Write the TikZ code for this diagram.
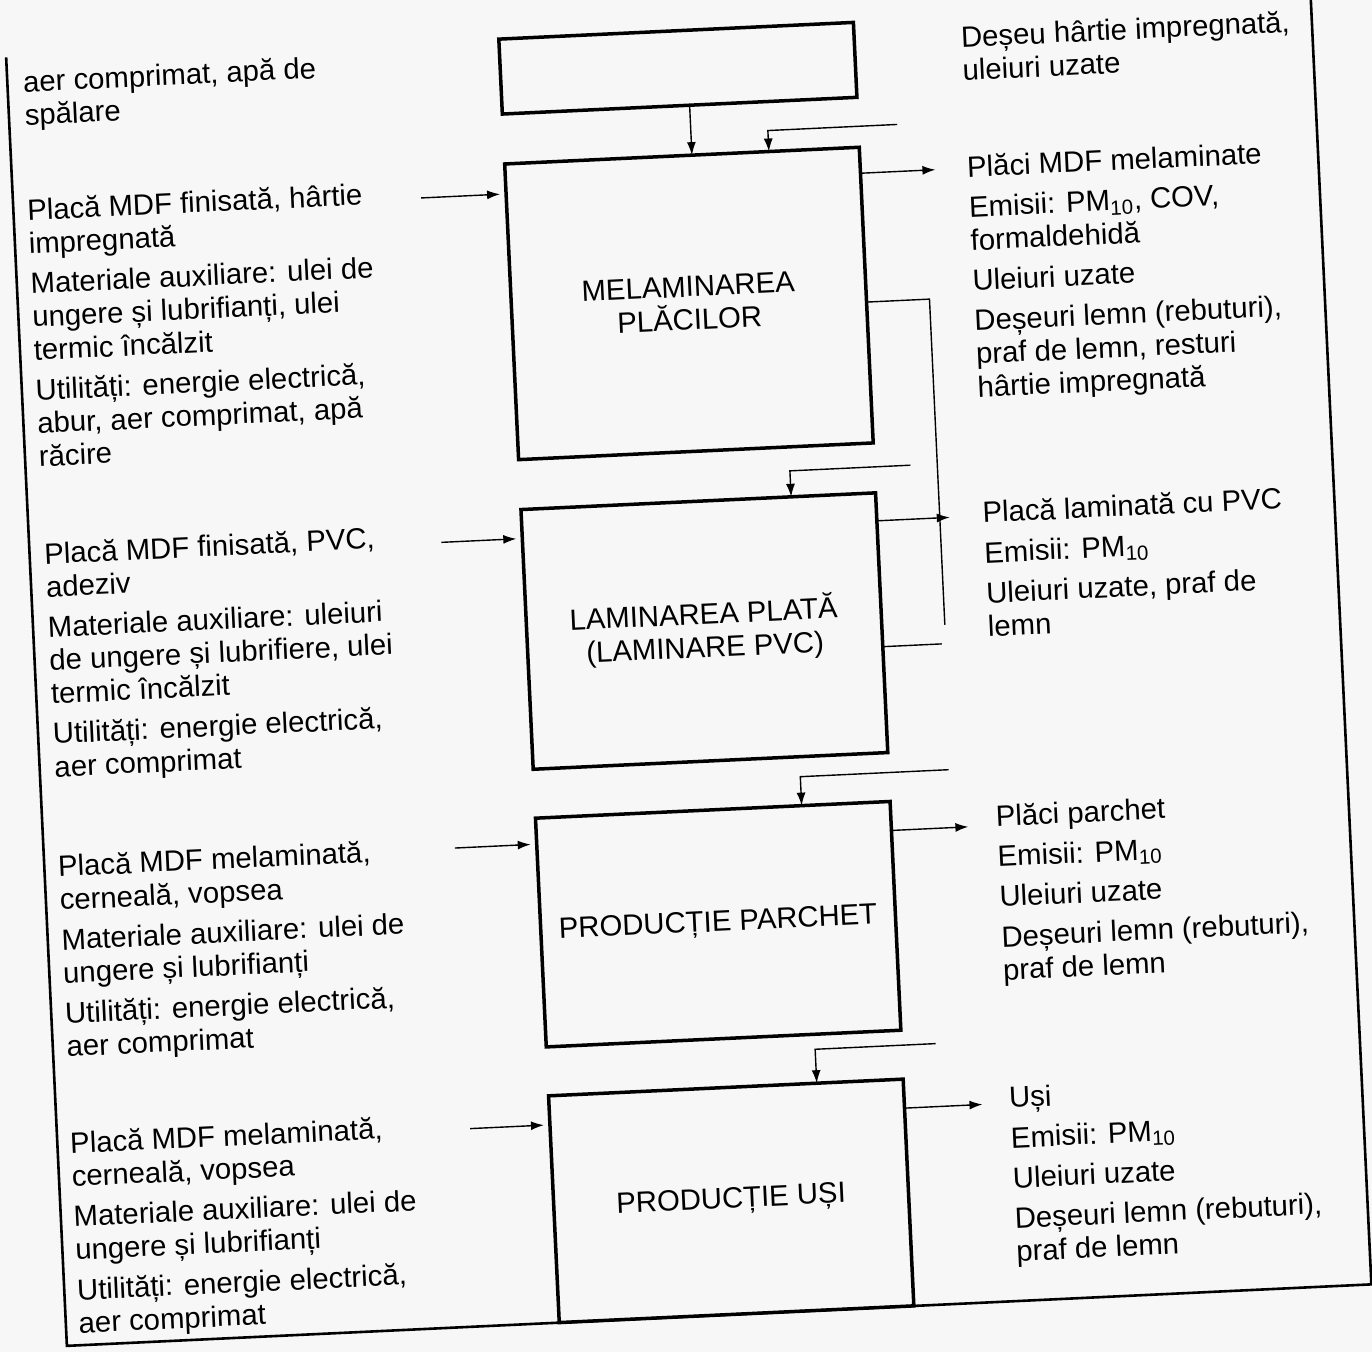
\documentclass[tikz,border=0pt]{standalone}
\usepackage{fontspec}
\setmainfont{Liberation Sans}
\usetikzlibrary{arrows.meta, positioning, calc}

\begin{document}
\begin{tikzpicture}[
x=0.5pt, y=-0.5pt,
node distance=25pt,
font=\fontsize{14.65pt}{16.6pt}\selectfont,
box/.style={draw, line width=1.75pt, minimum width=177.5pt, inner sep=0pt, outer sep=0pt, align=center},
txt/.style={anchor=north west, inner sep=0pt, align=left},
arrow/.style={-{Latex[length=6.5pt, width=4.5pt]}, line width=0.7pt},
link/.style={line width=0.7pt},
frame/.style={line width=1.3pt}
]
\useasboundingbox (0,0) rectangle (1372,1352);
\clip (0,0) rectangle (1372,1352);
\fill[white!97!black] (0,0) rectangle (1372,1352);

\begin{scope}[rotate around={2.7:(686,676)}, transform shape]

\draw[frame] (36,26) -- (36,1316) -- (1342,1316) -- (1342,-90);

\node[box, minimum height=37.5pt] (topbox) at (706.5,68.5) {};
\node[box, minimum height=148pt, below=of topbox] (melam) {MELAMINAREA\\PLĂCILOR};
\node[box, minimum height=130pt, below=of melam] (lamin) {LAMINAREA PLATĂ\\(LAMINARE PVC)};
\node[box, minimum height=114.5pt, below=24.5pt of lamin] (parchet) {PRODUCȚIE PARCHET};
\node[box, minimum height=113.5pt, below=24.5pt of parchet] (usi) {PRODUCȚIE UȘI};

\node[txt] (inTop) at (51.5,39.5) {aer comprimat, apă de\\spălare};
\node[txt] (inMelam) at (49.5,168) {Placă MDF finisată, hârtie\\impregnată\\[3.5pt]Materiale auxiliare: ulei de\\ungere și lubrifianți, ulei\\termic încălzit\\[3.5pt]Utilități: energie electrică,\\abur, aer comprimat, apă\\răcire};
\node[txt] (inLamin) at (50.5,512) {Placă MDF finisată, PVC,\\adeziv\\[3.5pt]Materiale auxiliare: uleiuri\\de ungere și lubrifiere, ulei\\termic încălzit\\[3.5pt]Utilități: energie electrică,\\aer comprimat};
\node[txt] (inParchet) at (49.5,825) {Placă MDF melaminată,\\cerneală, vopsea\\[3.5pt]Materiale auxiliare: ulei de\\ungere și lubrifianți\\[3.5pt]Utilități: energie electrică,\\aer comprimat};
\node[txt] (inUsi) at (48.5,1102) {Placă MDF melaminată,\\cerneală, vopsea\\[3.5pt]Materiale auxiliare: ulei de\\ungere și lubrifianți\\[3.5pt]Utilități: energie electrică,\\aer comprimat};

\node[txt] (outTop) at (990.5,39) {Deșeu hârtie impregnată,\\uleiuri uzate};
\node[txt] (outMelam) at (990.5,169) {Plăci MDF melaminate\\[3.5pt]Emisii: PM\textsubscript{10}, COV,\\formaldehidă\\[3.5pt]Uleiuri uzate\\[3.5pt]Deșeuri lemn (rebuturi),\\praf de lemn, resturi\\hârtie impregnată};
\node[txt] (outLamin) at (989.5,515) {Placă laminată cu PVC\\[3.5pt]Emisii: PM\textsubscript{10}\\[3.5pt]Uleiuri uzate, praf de\\lemn};
\node[txt] (outParchet) at (988.5,819) {Plăci parchet\\[3.5pt]Emisii: PM\textsubscript{10}\\[3.5pt]Uleiuri uzate\\[3.5pt]Deșeuri lemn (rebuturi),\\praf de lemn};
\node[txt] (outUsi) at (988.5,1101) {Uși\\[3.5pt]Emisii: PM\textsubscript{10}\\[3.5pt]Uleiuri uzate\\[3.5pt]Deșeuri lemn (rebuturi),\\praf de lemn};

\coordinate (feedMelam) at (923,135);
\coordinate (feedLamin) at (920,476);
\coordinate (feedParchet) at (944,782);
\coordinate (feedUsi) at (918,1055);

\coordinate (srcMelam) at (444,186);
\coordinate (srcLamin) at (448,531);
\coordinate (srcParchet) at (447,837);
\coordinate (srcUsi) at (449,1118);

\coordinate (tipMelam) at (959,182);
\coordinate (tipLamin) at (957,530);
\coordinate (tipParchet) at (961,840);
\coordinate (tipUsi) at (962,1118);

\coordinate (sideTop) at (947,311);
\coordinate (sideEnd) at (947,637);
\coordinate (stubLamin) at (943,656);

\draw[arrow] ($(topbox.south)+(10,0)$) -- ($(melam.north)+(10,0)$);
\draw[arrow] (feedMelam) -| ($(melam.north)+(87,0)$);
\draw[arrow] (feedLamin) -| ($(lamin.north)+(93,0)$);
\draw[arrow] (feedParchet) -| ($(parchet.north)+(89,0)$);
\draw[arrow] (feedUsi) -| ($(usi.north)+(91,0)$);

\draw[arrow, shorten >=3pt] (srcMelam) -- (srcMelam -| melam.west);
\draw[arrow, shorten >=3pt] (srcLamin) -- (srcLamin -| lamin.west);
\draw[arrow, shorten >=3pt] (srcParchet) -- (srcParchet -| parchet.west);
\draw[arrow, shorten >=3pt] (srcUsi) -- (srcUsi -| usi.west);

\draw[arrow] (tipMelam -| melam.east) -- (tipMelam);
\draw[arrow] (tipLamin -| lamin.east) -- (tipLamin);
\draw[arrow] (tipParchet -| parchet.east) -- (tipParchet);
\draw[arrow] (tipUsi -| usi.east) -- (tipUsi);

\draw[link] (melam.east |- sideTop) -- (sideTop) -- (sideEnd);
\draw[link] (lamin.east |- stubLamin) -- (stubLamin);

\end{scope}
\end{tikzpicture}
\end{document}
